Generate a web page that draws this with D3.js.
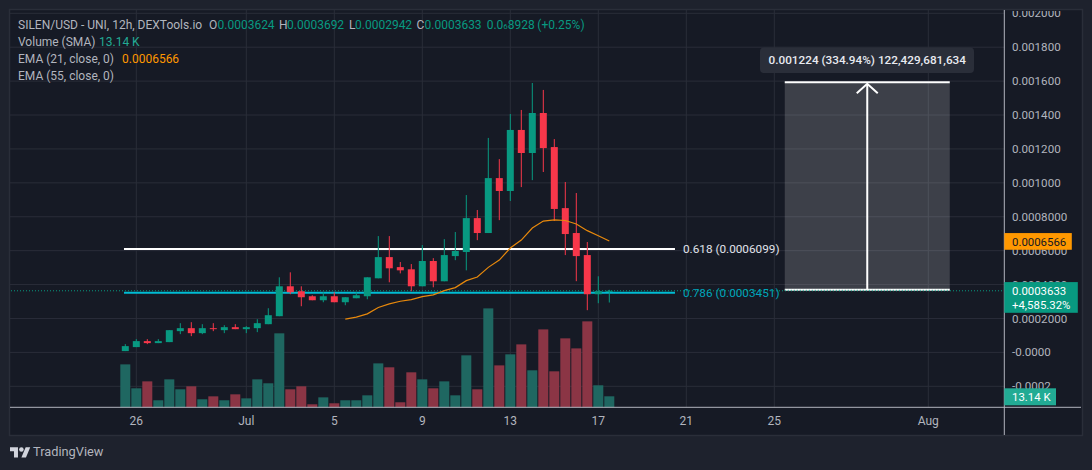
<!DOCTYPE html>
<html>
<head>
<meta charset="utf-8">
<style>
  html, body { margin: 0; padding: 0; background: #1e222d; overflow: hidden; }
  svg { display: block; }
  text { font-family: Roboto, "Open Sans", sans-serif; }
</style>
<script src="https://cdn.jsdelivr.net/npm/d3@7"></script>
</head>
<body>
<div id="chart"></div>
<script>
// 12h candles, first bar is Jun 25 12:00
const open = [0.0000076, 0.0000312, 0.0000665, 0.0000547, 0.0000606, 0.0001253, 0.0001429, 0.0001135, 0.0001429, 0.0001311, 0.0001488, 0.000137, 0.0001429, 0.0001664, 0.0002135, 0.0003899, 0.0003605, 0.0003311, 0.0003076, 0.0003311, 0.0002958, 0.0003194, 0.0003311, 0.000437, 0.000562, 0.000503, 0.00049, 0.00039, 0.000539, 0.0004194, 0.000568, 0.000592, 0.000792, 0.000704, 0.001028, 0.000952, 0.001312, 0.001176, 0.001412, 0.001211, 0.000851, 0.000704, 0.000574, 0.000343, 0.0003624];
const high = [0.0000488, 0.0000782, 0.0000782, 0.0000782, 0.0001311, 0.0001723, 0.0001782, 0.0001664, 0.0001723, 0.0001605, 0.0001664, 0.0001547, 0.0001958, 0.0002605, 0.0004429, 0.0004723, 0.0003899, 0.000337, 0.0003547, 0.0003547, 0.0003253, 0.0003547, 0.0004429, 0.000686, 0.000686, 0.000533, 0.000521, 0.000633, 0.000556, 0.000668, 0.00071, 0.000928, 0.00084, 0.001265, 0.00114, 0.001406, 0.00143, 0.001589, 0.001548, 0.001258, 0.001005, 0.00094, 0.000651, 0.000449, 0.0003692];
const low = [0.0000076, 0.0000312, 0.0000488, 0.0000547, 0.0000606, 0.0001076, 0.0000958, 0.0001076, 0.0001253, 0.0001135, 0.000137, 0.0001135, 0.0001194, 0.0001664, 0.0002135, 0.0003429, 0.0002723, 0.0003076, 0.0002958, 0.0002958, 0.0002782, 0.0003194, 0.0003135, 0.000437, 0.0004135, 0.000466, 0.0003606, 0.00039, 0.0003841, 0.0004194, 0.000544, 0.000484, 0.000662, 0.000704, 0.00078, 0.000893, 0.000975, 0.001016, 0.001064, 0.000775, 0.000574, 0.00042, 0.000249, 0.00029, 0.0002942];
const close = [0.000037, 0.0000665, 0.0000547, 0.0000665, 0.0001311, 0.0001429, 0.0001135, 0.0001429, 0.000137, 0.0001488, 0.000137, 0.0001488, 0.0001723, 0.0002194, 0.0003899, 0.0003547, 0.0003253, 0.0003076, 0.0003311, 0.0002958, 0.0003253, 0.000337, 0.0004429, 0.000562, 0.000496, 0.000484, 0.00039, 0.000539, 0.0004194, 0.000574, 0.000598, 0.000792, 0.000704, 0.001028, 0.000952, 0.001312, 0.001176, 0.001412, 0.001205, 0.000846, 0.000698, 0.000568, 0.000343, 0.000361, 0.0003633];
const volume = [51.3, 22.7, 31, 8.4, 33.4, 21.5, 25.1, 9.6, 13.1, 8.4, 15.5, 10.7, 33.4, 28.7, 88.4, 21.5, 25.1, 3.6, 11.9, 4.8, 8.4, 8.4, 14.3, 52.5, 47.8, 6, 41.8, 33.4, 22.7, 31, 14.3, 62.1, 21.5, 118.2, 50.1, 63.3, 75.2, 44.2, 93.1, 43, 82.4, 70.4, 102.7, 26.3, 13.14];

// EMA 21 begins at bar 20
const emaStart = 20;
const ema21 = [0.0001958, 0.0002076, 0.0002272, 0.0002645, 0.000286, 0.0003017, 0.0003115, 0.0003292, 0.000339, 0.0003645, 0.0003821, 0.0004233, 0.0004449, 0.0005015, 0.0005445, 0.0006155, 0.0006625, 0.0007335, 0.0007745, 0.000781, 0.000778, 0.000757, 0.000718, 0.000688, 0.0006566];

const priceTicks = [0.002, 0.0018, 0.0016, 0.0014, 0.0012, 0.001, 0.0008, 0.0006, 0.0004, 0.0002, 0, -0.0002];
const priceTickLabels = ["0.002000", "0.001800", "0.001600", "0.001400", "0.001200", "0.001000", "0.0008000", "0.0006000", "0.0004000", "0.0002000", "-0.0000", "-0.0002"];
const timeTicks = [1, 11, 19, 27, 35, 43, 51, 59, 73];
const timeTickLabels = ["26", "Jul", "5", "9", "13", "17", "21", "25", "Aug"];

const fibValues = [0.00061, 0.000352];
const fibLabels = ["0.618 (0.0006099)", "0.786 (0.0003451)"];
const fibColors = ["#ffffff", "#00bcd4"];
const fibLabelColors = ["#e0e3eb", "#00a5bb"];
const fibBars = [-0.12, 49.97];

const rangeBars = [59.95, 74.95];
const rangePrices = [0.000369, 0.001593];
const lastPrice = 0.0003633;
const lastEma = 0.0006566;
const lastVolume = 13.14;

const width = 1092, height = 470;
const panel = { left: 10, top: 10, right: 1082, bottom: 435 };
const axisX = 1004.3, axisY = 407.3;
const green = "#089981", red = "#f7374a";
const barGreen = "#1f6761", barRed = "#8b3545";
const gridColor = "#2a2d39", axisColor = "#b2b5be", textColor = "#b2b5be";

const x = d3.scaleLinear().domain([0, 44]).range([125.3, 609.3]);
const y = d3.scaleLinear().domain([-0.0002, 0.002]).range([386.3, 13.3]);
const yVol = d3.scaleLinear().domain([0, 119.5]).range([axisY, axisY - 100]);

const svg = d3.select("#chart").append("svg")
    .attr("width", width)
    .attr("height", height);

svg.append("defs").append("clipPath")
    .attr("id", "panel-clip")
    .append("rect")
    .attr("x", panel.left)
    .attr("y", panel.top + 1)
    .attr("width", panel.right - panel.left)
    .attr("height", panel.bottom - panel.top);

// Panel
svg.append("rect")
    .attr("x", panel.left - 0.5)
    .attr("y", panel.top - 0.5)
    .attr("width", panel.right - panel.left + 1)
    .attr("height", panel.bottom - panel.top + 1)
    .attr("fill", "#161a25")
    .attr("stroke", "#2a2e39")
    .attr("stroke-width", 1.5);

// Grid
svg.append("g").selectAll("line")
    .data(priceTicks)
    .join("line")
    .attr("x1", panel.left)
    .attr("x2", axisX)
    .attr("y1", d => y(d))
    .attr("y2", d => y(d))
    .attr("stroke", gridColor);

svg.append("g").selectAll("line")
    .data(timeTicks)
    .join("line")
    .attr("x1", d => x(d))
    .attr("x2", d => x(d))
    .attr("y1", panel.top)
    .attr("y2", axisY)
    .attr("stroke", gridColor);

// Volume bars
svg.append("g").selectAll("rect")
    .data(volume)
    .join("rect")
    .attr("x", (d, i) => x(i) - 5)
    .attr("width", 10)
    .attr("y", d => yVol(d))
    .attr("height", d => axisY - yVol(d))
    .attr("fill", (d, i) => close[i] >= open[i] ? barGreen : barRed);

// Fib levels
fibValues.forEach((d, i) => {
    svg.append("line")
        .attr("x1", x(fibBars[0]))
        .attr("x2", x(fibBars[1]))
        .attr("y1", y(d))
        .attr("y2", y(d))
        .attr("stroke", fibColors[i])
        .attr("stroke-width", 2);
    svg.append("text")
        .attr("x", 683)
        .attr("y", y(d))
        .attr("dy", "0.35em")
        .attr("font-size", 11.75)
        .attr("fill", fibLabelColors[i])
        .text(fibLabels[i]);
});

// Last price line
svg.append("line")
    .attr("x1", panel.left + 1)
    .attr("x2", axisX)
    .attr("y1", y(lastPrice))
    .attr("y2", y(lastPrice))
    .attr("stroke", green)
    .attr("stroke-dasharray", "1 2");

// Candles
const candles = svg.append("g").selectAll("g")
    .data(close)
    .join("g")
    .attr("fill", (d, i) => d >= open[i] ? green : red);

candles.append("rect")
    .attr("x", (d, i) => x(i) - 0.5)
    .attr("width", 1)
    .attr("y", (d, i) => y(high[i]))
    .attr("height", (d, i) => y(low[i]) - y(high[i]));

candles.append("rect")
    .attr("x", (d, i) => x(i) - 3.5)
    .attr("width", 7)
    .attr("y", (d, i) => y(Math.max(d, open[i])))
    .attr("height", (d, i) => Math.max(1, Math.abs(y(d) - y(open[i]))));

// EMA 21
const emaLine = d3.line()
    .x((d, i) => x(i + emaStart))
    .y(d => y(d));

svg.append("path")
    .attr("d", emaLine(ema21))
    .attr("fill", "none")
    .attr("stroke", "#e8890c")
    .attr("stroke-width", 1.2);

// Price range drawing
const rangeLeft = x(rangeBars[0]), rangeRight = x(rangeBars[1]);
const rangeMid = (rangeLeft + rangeRight) / 2;
const rangeLow = y(rangePrices[0]), rangeHigh = y(rangePrices[1]);

svg.append("rect")
    .attr("x", rangeLeft)
    .attr("y", rangeHigh)
    .attr("width", rangeRight - rangeLeft)
    .attr("height", rangeLow - rangeHigh)
    .attr("fill", "#ffffff")
    .attr("fill-opacity", 0.17);

[rangeLow, rangeHigh].forEach(d => {
    svg.append("line")
        .attr("x1", rangeLeft)
        .attr("x2", rangeRight)
        .attr("y1", d)
        .attr("y2", d)
        .attr("stroke", "#ffffff")
        .attr("stroke-width", 2);
});

svg.append("line")
    .attr("x1", rangeLeft)
    .attr("x2", rangeRight)
    .attr("y1", y(lastPrice) - 0.5)
    .attr("y2", y(lastPrice) - 0.5)
    .attr("stroke", green)
    .attr("stroke-dasharray", "1 2");

svg.append("line")
    .attr("x1", rangeMid)
    .attr("x2", rangeMid)
    .attr("y1", rangeLow)
    .attr("y2", rangeHigh + 2)
    .attr("stroke", "#ffffff")
    .attr("stroke-width", 2);

svg.append("path")
    .attr("d", d3.line()([[rangeMid - 10.5, rangeHigh + 11], [rangeMid, rangeHigh + 1.5], [rangeMid + 10.5, rangeHigh + 11]]))
    .attr("fill", "none")
    .attr("stroke", "#ffffff")
    .attr("stroke-width", 2);

svg.append("rect")
    .attr("x", 760)
    .attr("y", 47.5)
    .attr("width", 214)
    .attr("height", 25.5)
    .attr("rx", 4)
    .attr("fill", "#2a2e39");

svg.append("text")
    .attr("x", rangeMid)
    .attr("y", 60.3)
    .attr("dy", "0.35em")
    .attr("text-anchor", "middle")
    .attr("font-size", 11.75)
    .attr("font-weight", 500)
    .attr("fill", "#e8eaf0")
    .text("0.001224 (334.94%) 122,429,681,634");

// Axis lines
svg.append("line")
    .attr("x1", axisX)
    .attr("x2", axisX)
    .attr("y1", panel.top)
    .attr("y2", panel.bottom)
    .attr("stroke", axisColor);

svg.append("line")
    .attr("x1", panel.left)
    .attr("x2", panel.right - 1)
    .attr("y1", axisY)
    .attr("y2", axisY)
    .attr("stroke", axisColor);

// Axis labels
svg.append("g")
    .attr("clip-path", "url(#panel-clip)")
    .selectAll("text")
    .data(priceTicks)
    .join("text")
    .attr("x", 1012)
    .attr("y", d => y(d))
    .attr("dy", "0.35em")
    .attr("font-size", 11.6)
    .attr("fill", textColor)
    .text((d, i) => priceTickLabels[i]);

svg.append("g").selectAll("text")
    .data(timeTicks)
    .join("text")
    .attr("x", d => x(d))
    .attr("y", 421)
    .attr("dy", "0.35em")
    .attr("text-anchor", "middle")
    .attr("font-size", 12)
    .attr("fill", textColor)
    .text((d, i) => timeTickLabels[i]);

// Axis tags
function tag(top, w, h, fill) {
    svg.append("rect")
        .attr("x", axisX)
        .attr("y", top)
        .attr("width", w)
        .attr("height", h)
        .attr("fill", fill);
}

function tagText(cy, txt, fill) {
    svg.append("text")
        .attr("x", 1012)
        .attr("y", cy)
        .attr("dy", "0.35em")
        .attr("font-size", 11.4)
        .attr("fill", fill)
        .text(txt);
}

tag(y(lastEma) - 8, 67.5, 16.7, "#ff9800");
tagText(y(lastEma) + 0.5, "0.0006566", "#131722");
tag(y(lastPrice) - 8.7, 73.5, 30.7, green);
tagText(y(lastPrice), "0.0003633", "#ffffff");
tagText(y(lastPrice) + 14.5, "+4,585.32%", "#ffffff");
tag(yVol(lastVolume) - 8, 51.7, 17, "#22ab94");
tagText(yVol(lastVolume) + 0.5, "13.14 K", "#ffffff");

// Legend
const legendParts = [
    [18, 25, "SILEN/USD - UNI, 12h, DEXTools.io", textColor],
    [209, 25, "O", textColor], [217.5, 25, "0.0003624", green],
    [279, 25, "H", textColor], [287, 25, "0.0003692", green],
    [349, 25, "L", textColor], [355, 25, "0.0002942", green],
    [416.5, 25, "C", textColor], [424.5, 25, "0.0003633", green],
    [537.3, 25, "(+0.25%)", green],
    [18, 42, "Volume (SMA)", textColor], [99, 42, "13.14 K", "#22ab94"],
    [18, 59, "EMA (21, close, 0)", textColor], [122, 59, "0.0006566", "#ff9800"],
    [18, 76, "EMA (55, close, 0)", textColor]
];

svg.append("g").selectAll("text")
    .data(legendParts)
    .join("text")
    .attr("x", d => d[0])
    .attr("y", d => d[1])
    .attr("dy", "0.35em")
    .attr("font-size", 12)
    .attr("fill", d => d[3])
    .text(d => d[2]);

// Change value with a subscript zero count
const change = svg.append("text")
    .attr("x", 486.7)
    .attr("y", 25)
    .attr("dy", "0.35em")
    .attr("font-size", 12)
    .attr("fill", green);
change.append("tspan").text("0.0");
change.append("tspan").attr("font-size", 8).text("6");
change.append("tspan").text("8928");

// Logo
const logo = svg.append("g")
    .attr("transform", "translate(10,445) scale(0.57)")
    .attr("fill", "#d1d4dc");
logo.append("path").attr("d", "M14 22H7V11H0V4h14v18zM28 22h-8l7.5-18h8L28 22z");
logo.append("circle").attr("cx", 20).attr("cy", 8).attr("r", 4);

svg.append("text")
    .attr("x", 33)
    .attr("y", 452)
    .attr("dy", "0.35em")
    .attr("font-size", 12.8)
    .attr("fill", textColor)
    .text("TradingView");
</script>
</body>
</html>
